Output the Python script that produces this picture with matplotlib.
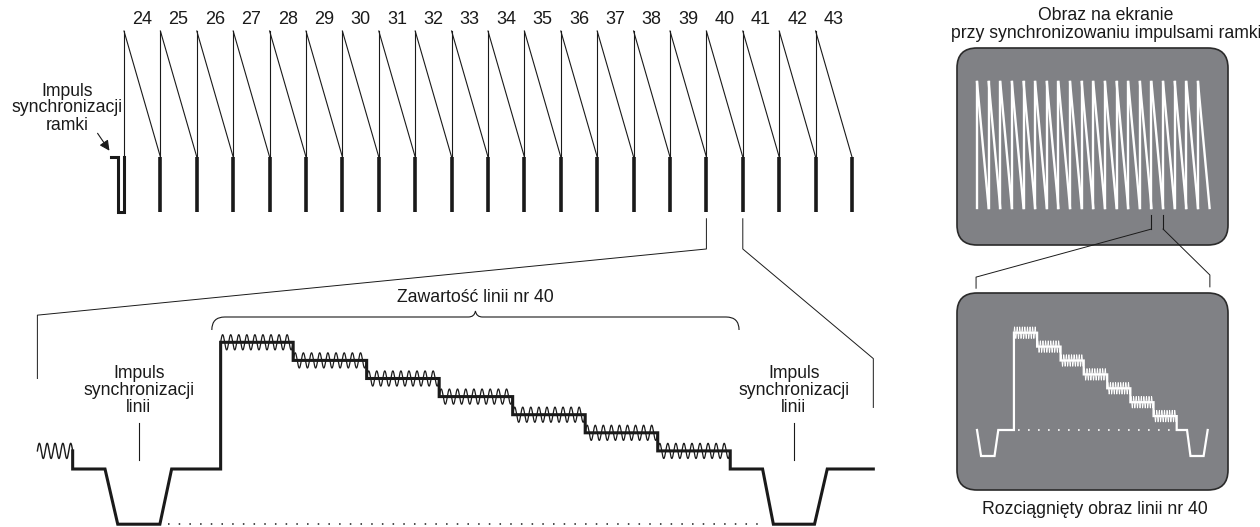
import numpy as np
import matplotlib
matplotlib.use('Agg')
import matplotlib.pyplot as plt
from matplotlib.patches import FancyBboxPatch, FancyArrowPatch, PathPatch
from matplotlib.path import Path

plt.rcParams['font.family'] = ['Liberation Sans', 'DejaVu Sans']

W, H = 1260, 527
INK = '#1a1a1a'
SCREEN = '#808185'
FS = 12.7

# ---- data ----
line_numbers = list(range(24, 44))
zoom_line = 40
# video line (time in us-ish units, level in grey steps; 0 = blanking)
step_levels = [7, 6, 5, 4, 3, 2, 1]
step_edges = [11.8, 19.2, 26.7, 34.1, 41.6, 49.0, 56.4, 63.8]
sync_level = -3.05
screen_sync_level = -1.87
sync_t = [0.0, 1.3, 5.6, 6.8]          # fall start, fall end, rise start, rise end
next_sync_t = [67.1, 68.2, 72.4, 73.7]
prev_chroma_start = -6.9
prev_line_end = -3.3
prev_level = 1
line_end = 78.4
chroma_periods = 9
chroma_amp = 0.42
dots_bottom = [6.4, 67.1]
dots_screen = [13.0, 61.8]

fig = plt.figure(figsize=(W / 100, H / 100), dpi=100)
base = fig.add_axes([0, 0, 1, 1])
base.set_xlim(0, W)
base.set_ylim(H, 0)
base.axis('off')


def layer(x0, sx, y0, sy):
    # full-figure axes: pixel x = x0 + sx*u, pixel y (from top) = y0 - sy*v
    a = fig.add_axes([0, 0, 1, 1])
    a.set_xlim(-x0 / sx, (W - x0) / sx)
    a.set_ylim((y0 - H) / sy, y0 / sy)
    a.axis('off')
    a.patch.set_alpha(0)
    return a


def to_px(ax, u, v):
    X, Y = ax.transData.transform((u, v))
    return X, H - Y


top = layer(124, 36.4, 157, 126)
scr1 = layer(977, 11.63, 208, 126)
bot = layer(105, 9.8, 469, 18.1)
scr2 = layer(977, 3.13, 430, 13.9)

# ---- top: line sweeps ----
n = len(line_numbers)
bar_v = -0.437
for k, num in enumerate(line_numbers):
    vb = bar_v if k == 0 else 0
    top.plot([k, k], [vb, 1], color=INK, lw=0.8)
    top.plot([k, k + 1], [1, 0], color=INK, lw=0.8)
    top.text(k + 0.5, 1.095, str(num), ha='center', va='center', fontsize=13, color=INK)
for k in range(1, n + 1):
    top.plot([k, k], [0, bar_v], color=INK, lw=2.6, solid_capstyle='butt')
# frame sync pulse
top.plot([-0.357, -0.165, -0.165, 0, 0], [0, 0, bar_v, bar_v, 0],
         color=INK, lw=2.2, solid_joinstyle='miter')
base.text(67, 108, 'Impuls\nsynchronizacji\nramki', ha='center', va='center',
          fontsize=FS, color=INK, linespacing=1.0)
base.add_patch(FancyArrowPatch((96, 131), (111, 153), arrowstyle='-|>',
                               mutation_scale=15, lw=0.8, color=INK))

# ---- bottom: line waveform ----
wt = [prev_line_end, prev_line_end] + sync_t + [step_edges[0]]
wv = [prev_level, 0, 0, sync_level, sync_level, 0, 0]
for i, lev in enumerate(step_levels):
    wt += [step_edges[i], step_edges[i + 1]]
    wv += [lev, lev]
wt += [step_edges[-1]] + next_sync_t + [line_end]
wv += [0, 0, sync_level, sync_level, 0, 0]


def chroma(ax, color, lw):
    for i, lev in enumerate(step_levels):
        t = np.linspace(step_edges[i], step_edges[i + 1], 300)
        ph = (t - step_edges[i]) / (step_edges[i + 1] - step_edges[i])
        ax.plot(t, lev + chroma_amp * np.sin(2 * np.pi * chroma_periods * ph),
                color=color, lw=lw, solid_capstyle='butt')


chroma(bot, INK, 0.9)
t = np.linspace(prev_chroma_start, prev_line_end, 200)
bot.plot(t, prev_level + chroma_amp * np.sin(2 * np.pi * (t - prev_chroma_start) / 0.8),
         color=INK, lw=1.0)
bot.plot(wt, wv, color=INK, lw=2.2, solid_joinstyle='miter')
bot.plot(dots_bottom, [sync_level, sync_level], color=INK, lw=1.1,
         linestyle=(0, (1, 6)))

for ts in [(sync_t[1] + sync_t[2]) / 2, (next_sync_t[1] + next_sync_t[2]) / 2]:
    bot.plot([ts, ts], [0.5, 2.55], color=INK, lw=0.8)
    bot.text(ts, 4.36, 'Impuls\nsynchronizacji\nlinii', ha='center', va='center',
             fontsize=FS, color=INK, linespacing=1.0)

# brace over the active line
xl, yb = to_px(bot, 10.9, 7.68)
xr, _ = to_px(bot, 64.7, 7.68)
xm = (xl + xr) / 2
yh, yt, r = 317, 311, 13
verts = [(xl, yb), (xl, yh), (xl + r, yh), (xm - 7, yh), (xm - 1, yh), (xm, yt),
         (xm + 1, yh), (xm + 7, yh), (xr - r, yh), (xr, yh), (xr, yb)]
codes = [Path.MOVETO, Path.CURVE3, Path.CURVE3, Path.LINETO, Path.CURVE3, Path.CURVE3,
         Path.CURVE3, Path.CURVE3, Path.LINETO, Path.CURVE3, Path.CURVE3]
base.add_patch(PathPatch(Path(verts, codes), fill=False, ec=INK, lw=0.8))
base.text(xm, 298, 'Zawartość linii nr 40', ha='center', va='center',
          fontsize=FS, color=INK)

# connectors from line 40 to the enlarged waveform
k40 = zoom_line - line_numbers[0]
a1 = to_px(top, k40, -0.49)
a2 = to_px(top, k40, -0.73)
b1 = to_px(top, k40 + 1, -0.49)
b2 = to_px(top, k40 + 1, -0.73)
c1 = to_px(bot, prev_chroma_start, 8.5)
c2 = to_px(bot, prev_chroma_start, 5.0)
d1 = to_px(bot, line_end, 6.1)
d2 = to_px(bot, line_end, 3.4)
for pts in [(a1, a2, c1, c2), (b1, b2, d1, d2)]:
    base.plot([p[0] for p in pts], [p[1] for p in pts], color=INK, lw=0.7)

# ---- right: screens ----
for (x, y) in [(957, 48), (957, 293)]:
    base.add_patch(FancyBboxPatch((x, y), 271, 197, boxstyle='round,pad=0,rounding_size=20',
                                  fc=SCREEN, ec='#2a2a2a', lw=1.2))

for k in range(n):
    scr1.plot([k, k], [0, 1], color='white', lw=1.7)
    scr1.plot([k, k + 1], [1, 0], color='white', lw=1.7)

base.text(1106, 15, 'Obraz na ekranie', ha='center', va='center', fontsize=FS, color=INK)
base.text(1106, 33, 'przy synchronizowaniu impulsami ramki', ha='center', va='center',
          fontsize=FS, color=INK)

# screen waveform
st = sync_t + [step_edges[0]]
sv = [0, screen_sync_level, screen_sync_level, 0, 0]
for i, lev in enumerate(step_levels):
    st += [step_edges[i], step_edges[i + 1]]
    sv += [lev, lev]
st += [step_edges[-1]] + next_sync_t
sv += [0, 0, screen_sync_level, screen_sync_level, 0]
chroma(scr2, 'white', 0.6)
scr2.plot(st, sv, color='white', lw=1.6, solid_joinstyle='miter')
scr2.plot(dots_screen, [0, 0], color='white', lw=1.2, linestyle=(0, (1, 5)))
base.text(1095, 510, 'Rozciągnięty obraz linii nr 40', ha='center', va='center',
          fontsize=FS, color=INK)

# connectors screen 1 -> screen 2
e1 = to_px(scr1, k40 - 1, -0.056)
e2 = to_px(scr1, k40 - 1, -0.167)
f1 = to_px(scr1, k40, -0.056)
f2 = to_px(scr1, k40, -0.167)
g1 = to_px(scr2, -0.3, 11.0)
g2 = to_px(scr2, -0.3, 10.2)
h1 = to_px(scr2, 74.4, 11.15)
h2 = to_px(scr2, 74.4, 10.3)
base.plot([e1[0], e2[0]], [e1[1], e2[1]], color=INK, lw=0.8)
base.plot([f1[0], f2[0]], [f1[1], f2[1]], color=INK, lw=0.8)
base.plot([e2[0], g1[0], g2[0]], [e2[1], g1[1], g2[1]], color=INK, lw=0.7)
base.plot([f2[0], h1[0], h2[0]], [f2[1], h1[1], h2[1]], color=INK, lw=0.7)

fig.savefig('out.png', dpi=100)
